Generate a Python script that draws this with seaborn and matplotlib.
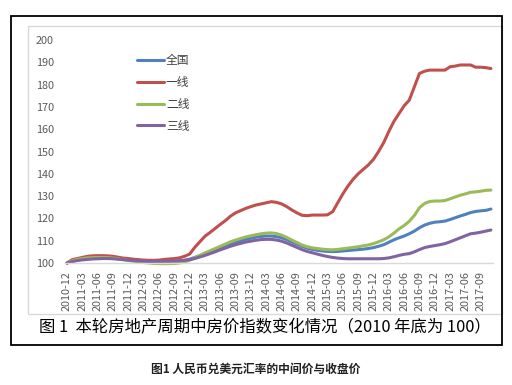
import seaborn as sns
import matplotlib.pyplot as plt
import pandas as pd
from matplotlib.patches import Rectangle

# 2010-12 .. 2017-11 monthly index (2010-12 = 100)
months = pd.period_range("2010-12", "2017-11", freq="M").strftime("%Y-%m").tolist()

national = [100, 100.8, 101.3, 101.7, 102, 102.2, 102.3, 102.3, 102.3, 102.2, 102, 101.7,
            101.4, 101.2, 101, 100.8, 100.6, 100.5, 100.5, 100.5, 100.6, 100.7, 100.9, 101.2,
            101.7, 102.5, 103.3, 104.2, 105, 105.8, 106.8, 107.7, 108.5, 109.3, 110, 110.6,
            111.1, 111.6, 111.9, 112.1, 112.1, 111.8, 111.3, 110.5, 109.5, 108.5, 107.5, 106.7,
            106.1, 105.7, 105.4, 105.2, 105.1, 105.2, 105.4, 105.6, 105.8, 106, 106.2, 106.5,
            106.9, 107.5, 108.2, 109.3, 110.4, 111.3, 112.1, 113.1, 114.3, 115.8, 117, 117.8,
            118.3, 118.5, 118.8, 119.5, 120.3, 121.1, 121.8, 122.6, 123.1, 123.4, 123.6, 124.2]

tier1 = [100, 101.5, 102, 102.5, 103, 103.2, 103.3, 103.3, 103.2, 103, 102.6, 102.2,
         102, 101.7, 101.5, 101.3, 101.2, 101.2, 101.3, 101.6, 101.8, 102, 102.3, 103,
         104, 107, 109.5, 112, 113.7, 115.5, 117.3, 119, 121, 122.5, 123.5, 124.5,
         125.3, 126, 126.5, 127, 127.5, 127.2, 126.5, 125.3, 123.8, 122.5, 121.4, 121.2,
         121.5, 121.5, 121.5, 121.6, 123, 127, 131, 134.5, 137.5, 140, 142, 144,
         146.5, 150, 154, 159, 163.5, 167, 170.5, 173, 179, 185, 186, 186.5,
         186.5, 186.5, 186.5, 188, 188.3, 188.8, 188.8, 188.8, 187.8, 187.8, 187.6, 187.2]

tier2 = [100, 101, 101.6, 102, 102.3, 102.4, 102.5, 102.5, 102.4, 102.2, 101.9, 101.5,
         101.1, 100.8, 100.5, 100.2, 100, 99.8, 99.7, 99.7, 99.7, 99.8, 100, 100.5,
         101.2, 102.3, 103.4, 104.5, 105.5, 106.5, 107.5, 108.5, 109.5, 110.3, 111, 111.7,
         112.2, 112.7, 113.1, 113.4, 113.5, 113.2, 112.5, 111.5, 110.3, 109.2, 108.1, 107.3,
         106.8, 106.5, 106.2, 106, 105.9, 106.1, 106.4, 106.7, 107, 107.3, 107.7, 108.1,
         108.7, 109.5, 110.4, 111.7, 113.4, 115.3, 116.8, 118.7, 121.3, 124.8, 126.7, 127.6,
         127.8, 127.8, 128, 128.8, 129.6, 130.4, 131, 131.7, 131.9, 132.2, 132.6, 132.7]

tier3 = [100, 100.6, 101.1, 101.4, 101.6, 101.8, 101.9, 102, 102, 101.9, 101.7, 101.5,
         101.3, 101.1, 100.9, 100.8, 100.7, 100.7, 100.7, 100.8, 100.8, 100.9, 101, 101.2,
         101.5, 102, 102.7, 103.4, 104.2, 105, 105.9, 106.7, 107.5, 108.2, 108.8, 109.4,
         109.8, 110.2, 110.5, 110.6, 110.6, 110.3, 109.8, 109, 108, 107, 106, 105.2,
         104.6, 104, 103.4, 102.9, 102.5, 102.2, 102, 101.9, 101.9, 101.9, 101.9, 101.9,
         101.9, 101.9, 102, 102.3, 102.8, 103.4, 103.9, 104.2, 105, 106, 106.9, 107.4,
         107.8, 108.2, 108.7, 109.5, 110.4, 111.3, 112.2, 113.1, 113.4, 113.8, 114.3, 114.8]

series_names = ["全国", "一线", "二线", "三线"]
colors = ["#4F81BD", "#C0504D", "#9BBB59", "#8064A2"]

rows = []
for name, vals in zip(series_names, [national, tier1, tier2, tier3]):
    for i, v in enumerate(vals):
        rows.append({"idx": i, "月份": months[i], "指数": v, "类别": name})
df = pd.DataFrame(rows)

sns.set_style("white")
plt.rcParams["font.family"] = ["Noto Sans CJK SC", "DejaVu Sans"]

fig = plt.figure(figsize=(5.12, 3.85), dpi=100)
W, H = 512, 385
ax = fig.add_axes([65 / W, 1 - 263 / H, 428 / W, 223 / H])

sns.lineplot(data=df, x="idx", y="指数", hue="类别", hue_order=series_names,
             palette=colors, linewidth=2.2, ax=ax, clip_on=False)

ax.set_xlim(-0.4, len(months) - 0.6)
ax.set_ylim(100, 200)
ax.set_yticks(range(100, 201, 10))
tick_idx = list(range(0, len(months), 3))
ax.set_xticks(tick_idx)
ax.set_xticklabels([months[i] for i in tick_idx], rotation=90)
ax.tick_params(axis="both", length=0, labelsize=7.8, colors="#595959")
ax.tick_params(axis="x", pad=6)
ax.tick_params(axis="y", pad=8)
ax.set_xlabel("")
ax.set_ylabel("")
for side in ["left", "right", "top"]:
    ax.spines[side].set_visible(False)
ax.spines["bottom"].set_color("#D9D9D9")
ax.spines["bottom"].set_linewidth(1)

handles, labels = ax.get_legend_handles_labels()
ax.legend(handles, labels, loc="upper left", bbox_to_anchor=(137 / W, 1 - 54 / H),
          bbox_transform=fig.transFigure, frameon=False, fontsize=8.5,
          handlelength=2.3, handletextpad=0.15, labelspacing=0.75,
          borderpad=0, borderaxespad=0, labelcolor="#404040")

# chart area border and outer box
fig.patches.append(Rectangle((28 / W, 1 - 314 / H), 474 / W, 288 / H,
                             transform=fig.transFigure, fill=False,
                             edgecolor="#D9D9D9", linewidth=1))
fig.patches.append(Rectangle((11 / W, 1 - 345 / H), 491 / W, 329 / H,
                             transform=fig.transFigure, fill=False,
                             edgecolor="black", linewidth=1.3))

fig.text(265 / W, 1 - 328 / H, "图 1  本轮房地产周期中房价指数变化情况（2010 年底为 100）",
         ha="center", va="center", fontsize=11.8, color="black")
fig.text(256 / W, 1 - 369 / H, "图1 人民币兑美元汇率的中间价与收盘价",
         ha="center", va="center", fontsize=8.5, fontweight="bold", color="#222222")

fig.savefig("out.png", dpi=100)
